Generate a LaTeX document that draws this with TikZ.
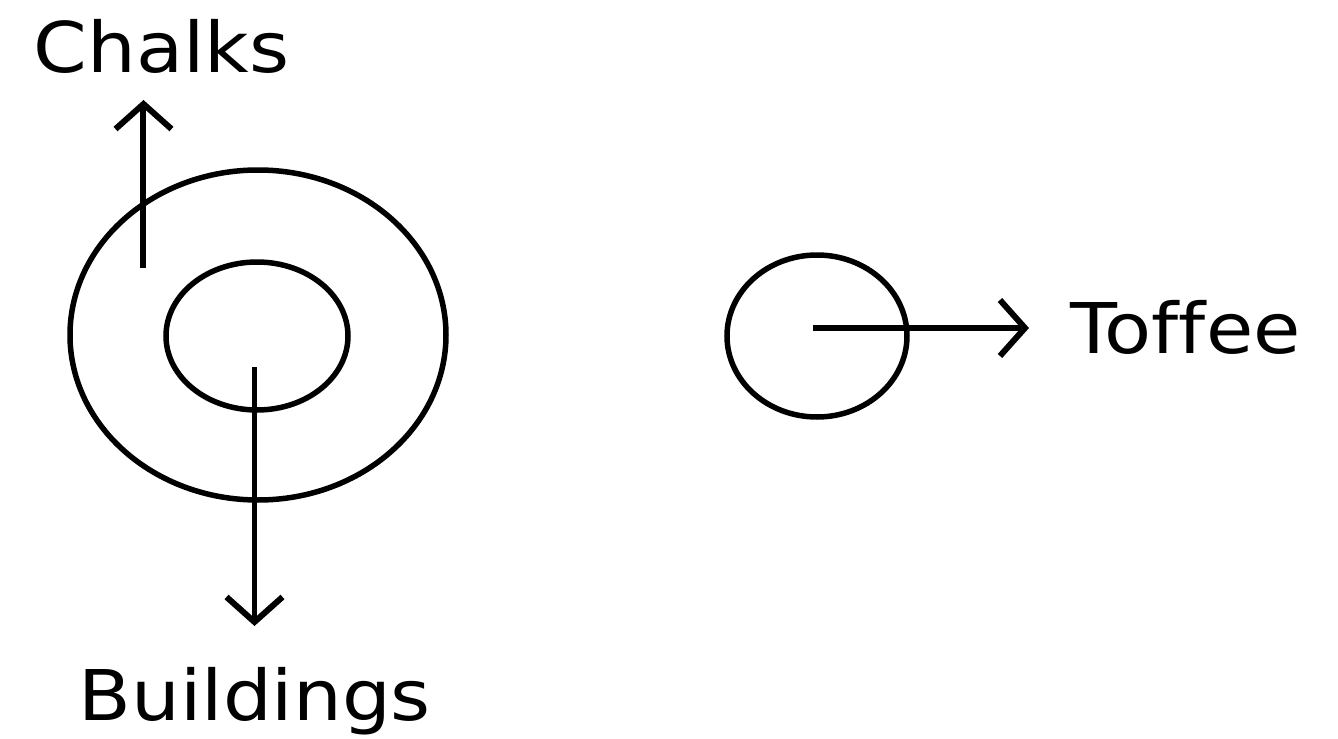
\documentclass[tikz,border=0pt]{standalone}
\usepackage{fontspec}
\setmainfont[Ligatures=NoCommon]{DejaVu Sans}
\usetikzlibrary{shapes.geometric,arrows.meta}
\begin{document}
\begin{tikzpicture}[
  ring/.style={draw, ellipse, line width=0.055cm, inner sep=0pt},
  pointer/.style={line width=0.06cm, -{Straight Barb[length=0.25cm,width=0.56cm,line width=0.06cm]}},
  lbl/.style={font=\fontsize{19.9pt}{24pt}\selectfont, xscale=1.1, inner sep=0pt, anchor=base west}
]
\useasboundingbox (0,0) rectangle (13.38,7.38);
\fill[white] (0,0) rectangle (13.38,7.38);
\node[ring, minimum width=3.76cm, minimum height=3.30cm] (outer) at (2.58,4.03) {};
\node[ring, minimum width=1.82cm, minimum height=1.48cm] (inner) at (2.57,4.02) {};
\node[ring, minimum width=1.80cm, minimum height=1.62cm] (small) at (8.17,4.02) {};
\coordinate (cs) at (1.435,4.70);
\coordinate (ce) at (1.435,6.38);
\coordinate (bs) at (2.545,3.71);
\coordinate (be) at (2.545,1.12);
\coordinate (ts) at (8.13,4.10);
\coordinate (te) at (10.29,4.10);
\node[lbl] (chalks) at (0.33,6.66) {Chalks};
\node[lbl] (buildings) at (0.78,0.18) {Buildings};
\node[lbl] (toffee) at (10.70,3.85) {Toffee};
\draw[pointer] (cs) -- (ce);
\draw[pointer] (bs) -- (be);
\draw[pointer] (ts) -- (te);
\end{tikzpicture}
\end{document}
